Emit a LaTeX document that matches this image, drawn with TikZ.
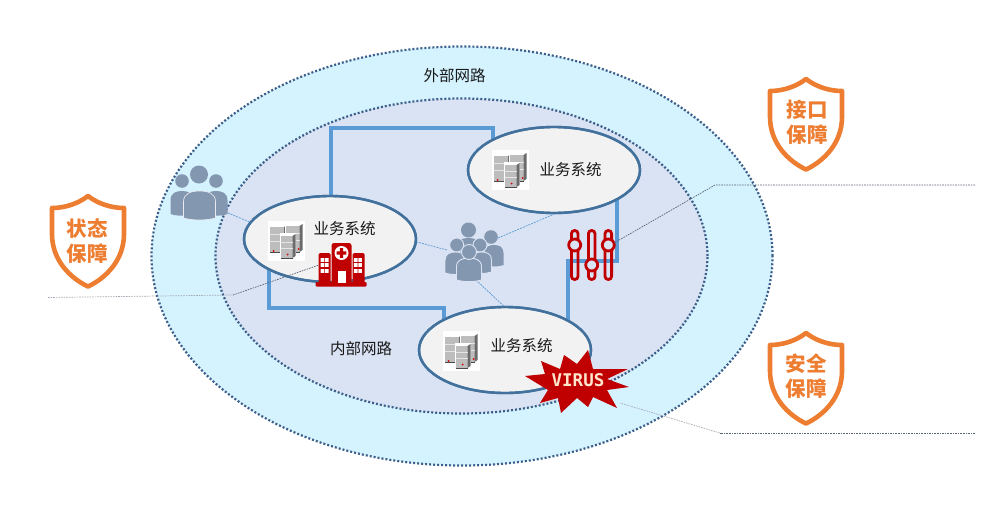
\documentclass[tikz,border=0pt]{standalone}
\usepackage{fontspec}
\setmainfont{Noto Sans CJK SC}
\newfontfamily\virusfont{DejaVu Sans Mono}
\usetikzlibrary{shapes.geometric}
\definecolor{orangeS}{HTML}{ED7D31}
\definecolor{lineblue}{HTML}{5B9BD5}
\definecolor{edgeblue}{HTML}{41719C}
\definecolor{outerfill}{HTML}{D5F3FF}
\definecolor{innerfill}{HTML}{DAE3F3}
\definecolor{dotcol}{HTML}{3B5F8A}
\definecolor{peoplecol}{HTML}{8497B0}
\definecolor{redI}{HTML}{C00000}
\definecolor{leaderc}{HTML}{5A6475}
\newcommand{\personbody}[4]{% cx, top y, half width, height
  (#1-#3,#2+#4) -- (#1-#3,#2+0.4*#4) .. controls (#1-#3,#2+0.08*#4) and (#1-0.5*#3,#2) .. (#1,#2)
  .. controls (#1+0.5*#3,#2) and (#1+#3,#2+0.08*#4) .. (#1+#3,#2+0.4*#4) -- (#1+#3,#2+#4)
  .. controls (#1+0.4*#3,#2+1.1*#4) and (#1-0.4*#3,#2+1.1*#4) .. (#1-#3,#2+#4) -- cycle}
\newcommand{\srvbox}[4]{% x0,y0,w,h
  \fill[white] (#1-.8,#2-.8) rectangle (#1+#3+.8,#2+#4+.8);
  \fill[white!74!black] (#1,#2+2) -- (#1+#3-3,#2+2) -- (#1+#3-3,#2+#4) -- (#1,#2+#4) -- cycle;
  \fill[white!42!black] (#1+#3-3,#2+2) -- (#1+#3,#2) -- (#1+#3,#2+#4-2) -- (#1+#3-3,#2+#4) -- cycle;
  \draw[white!90!black,line width=.7pt] (#1,#2+0.33*#4) -- (#1+#3-3,#2+0.33*#4) (#1,#2+0.6*#4) -- (#1+#3-3,#2+0.6*#4);
  \draw[white!30!black,line width=.7pt] (#1,#2+#4) -- (#1+#3-3,#2+#4);
}
\tikzset{
  x=1pt,y=-1pt,
  bigell/.style={ellipse,draw=dotcol,line width=2.2pt,dash pattern=on 2pt off 2pt,inner sep=0pt},
  biz/.style={ellipse,draw=edgeblue,fill=white!95!black,line width=2.4pt,minimum width=172pt,minimum height=86pt,inner sep=0pt},
  lbl/.style={font=\fontsize{15.5}{18}\selectfont,text=black!90,inner sep=0pt},
  shieldtxt/.style={font=\fontsize{20.5}{25.5}\selectfont\bfseries,text=orangeS,align=center,inner sep=0pt},
  trunk/.style={draw=lineblue,line width=4pt,line join=miter},
  thin link/.style={draw=lineblue,line width=.7pt,dash pattern=on 2pt off 1pt},
  leader/.style={draw=leaderc,line width=.7pt,dash pattern=on 1.6pt off 1pt},
  leaderlight/.style={draw=leaderc!55,line width=.7pt,dash pattern=on 1.6pt off 1pt},
  server/.pic={
    \fill[white] (-18.5,-20) rectangle (18.5,20);
    \srvbox{-16.5}{-16}{17}{27}
    \srvbox{-1}{-17}{17}{28}
    \srvbox{-6}{-7}{15}{24}
    \fill[red!85!black] (-13,10) circle[radius=1pt] (12,8) circle[radius=1pt] (1,13.5) circle[radius=1pt];
  },
  shield/.pic={
    \draw[orangeS,line width=4.6pt,line join=round]
      (0,2) .. controls (-9,9) and (-22,14) .. (-36,14) -- (-36,40)
      .. controls (-36,66) and (-18,84) .. (0,92.5)
      .. controls (18,84) and (36,66) .. (36,40) -- (36,14)
      .. controls (22,14) and (9,9) .. (0,2) -- cycle;
  },
  hospital/.pic={
    \fill[redI,rounded corners=1pt] (-26,39) rectangle (25,43.5);
    \fill[redI,rounded corners=1.5pt] (-23,10) rectangle (-11,41);
    \fill[redI,rounded corners=1.5pt] (11,10) rectangle (23,41);
    \fill[redI,rounded corners=2.5pt] (-10,0) rectangle (10,41);
    \fill[white] (0,10) circle[radius=7pt];
    \fill[redI] (-1.7,5.2) rectangle (1.7,14.8) (-4.8,8.3) rectangle (4.8,11.7);
    \fill[white] (-4,28) rectangle (4,39.5);
    \foreach \yy in {17,22,28}{
      \fill[white] (-21,\yy-1.8) rectangle ++(3.6,3.6) (-16.6,\yy-1.8) rectangle ++(3.6,3.6)
                   (12.4,\yy-1.8) rectangle ++(3.6,3.6) (16.8,\yy-1.8) rectangle ++(3.6,3.6);
    }
  },
  knob/.style={draw=redI,line width=2.8pt,fill=innerfill},
  pill/.style={draw=redI,line width=2.8pt,rounded corners=3.2pt},
}
\begin{document}
\begin{tikzpicture}
\useasboundingbox (0,0) rectangle (1000,514);
\node[bigell,fill=outerfill,minimum width=621pt,minimum height=419pt] (outer) at (462,256) {};
\node[bigell,fill=innerfill,minimum width=492pt,minimum height=315pt] (inner) at (461.5,256) {};

% named junctions
\coordinate (j1) at (331,128);
\coordinate (j2) at (493,128);
\coordinate (j3) at (269,308);
\coordinate (j4) at (444,308);
\coordinate (j5) at (617,261);
\coordinate (j6) at (568,261);
\coordinate (staff) at (228,213);
\coordinate (crowdW) at (447,250);
\coordinate (crowdE) at (498,238);
\coordinate (crowdS) at (476,280);

% business ellipses
\node[biz] (A) at (330,239) {};
\node[biz] (B) at (554,170) {};
\node[biz] (C) at (505,350) {};

% thick trunks
\draw[trunk] (j1 |- A.north) -- (j1) -- (j2) -- (j2 |- B.153);
\draw[trunk] (j3 |- A.206) -- (j3) -- (j4) -- (j4 |- C.154);
\draw[trunk] (j5 |- B.335) -- (j5) -- (j6) -- (j6 |- C.25);
% redraw borders over trunks
\node[biz,fill=none] at (A) {};
\node[biz,fill=none] at (B) {};
\node[biz,fill=none] at (C) {};

% thin links
\draw[thin link] (staff) -- (A.168);
\draw[thin link] (crowdW) -- (A.358);
\draw[thin link] (crowdE) -- (B.270);
\draw[thin link] (crowdS) -- (C.92);

% server icons
\pic (srvA) at (286.5,241) {server};
\pic (srvB) at (510.5,170) {server};
\pic (srvC) at (461.5,351) {server};

\node[lbl] (tA) at (344.5,229) {业务系统};
\node[lbl] (tB) at (570.5,170) {业务系统};
\node[lbl] (tC) at (521.5,346) {业务系统};
\node[lbl] (tOut) at (454.5,76) {外部网路};
\node[lbl] (tIn) at (361,349) {内部网路};

% left staff icon
\fill[peoplecol] (182,181) circle[radius=6.8pt] (216,181) circle[radius=6.8pt];
\fill[peoplecol] \personbody{182}{191}{11.5}{23};
\fill[peoplecol] \personbody{216}{191}{11.5}{23};
\fill[peoplecol] (199,174.5) circle[radius=9pt];
\draw[white!80!peoplecol,line width=.7pt,fill=peoplecol] \personbody{199.5}{191}{16}{27};

% central crowd
\fill[peoplecol] (491,237) circle[radius=6.8pt];
\fill[peoplecol] \personbody{494}{245}{9.5}{20};
\fill[peoplecol] (468.5,230) circle[radius=7.5pt];
\fill[peoplecol] \personbody{468.5}{238}{12}{22};
\draw[innerfill,line width=.9pt,fill=peoplecol] (456.7,245) circle[radius=7pt];
\draw[innerfill,line width=.9pt,fill=peoplecol] (480,245) circle[radius=7pt];
\draw[innerfill,line width=.9pt,fill=peoplecol] \personbody{455.5}{252}{10.5}{21};
\draw[innerfill,line width=.9pt,fill=peoplecol] \personbody{481.5}{252}{10}{20};
\draw[innerfill,line width=.9pt,fill=peoplecol] \personbody{469}{258}{12.5}{22};
\draw[innerfill,line width=.9pt,fill=peoplecol] (469,252) circle[radius=7.5pt];

% hospital
\pic (hosp) at (341.5,243) {hospital};

% sliders
\draw[pill] (571.4,230.5) rectangle (578,279.5);
\draw[pill] (588.4,230.5) rectangle (595,279.5);
\draw[pill] (605,230.5) rectangle (611.6,279.5);
\draw[knob] (574.7,245) circle[radius=6pt];
\draw[knob] (591.7,265) circle[radius=6pt];
\draw[knob] (608.3,245) circle[radius=6pt];

% virus star
\fill[redI] (525,376) -- (545,374) -- (541,361) -- (560,369) -- (564,355) -- (577,364) -- (588,350)
  -- (593,369) -- (628,369) -- (607,379) -- (629,387) -- (607,390) -- (617,408) -- (593,397)
  -- (588,407) -- (577,398) -- (561,413) -- (558,398) -- (540,403) -- (548,390) -- cycle;
\node[font=\virusfont\bfseries\fontsize{17.5}{20}\selectfont,text=white!80!orange,inner sep=0pt] (vtxt) at (578,380) {VIRUS};

% leaders
\coordinate (l1a) at (48,297.5);
\coordinate (l1b) at (233,295);
\coordinate (l1c) at (319,265);
\coordinate (l2a) at (975,185);
\coordinate (l2b) at (715,185);
\coordinate (l2c) at (614,243);
\coordinate (l3a) at (975,433);
\coordinate (l3b) at (720,433);
\coordinate (l3c) at (620,403);
\draw[leaderlight] (l1a) -- (l1b);
\draw[leader] (l1b) -- (l1c);
\draw[leader] (l2a) -- (l2b) -- (l2c);
\draw[leader] (l3a) -- (l3b);
\draw[leaderlight] (l3b) -- (l3c);

% shields
\pic (s1) at (88,194) {shield};
\pic (s2) at (806,77) {shield};
\pic (s3) at (806,331) {shield};
\node[shieldtxt] (t1) at (87,241) {状态\\保障};
\node[shieldtxt] (t2) at (807,122) {接口\\保障};
\node[shieldtxt] (t3) at (806,376) {安全\\保障};
\end{tikzpicture}
\end{document}
